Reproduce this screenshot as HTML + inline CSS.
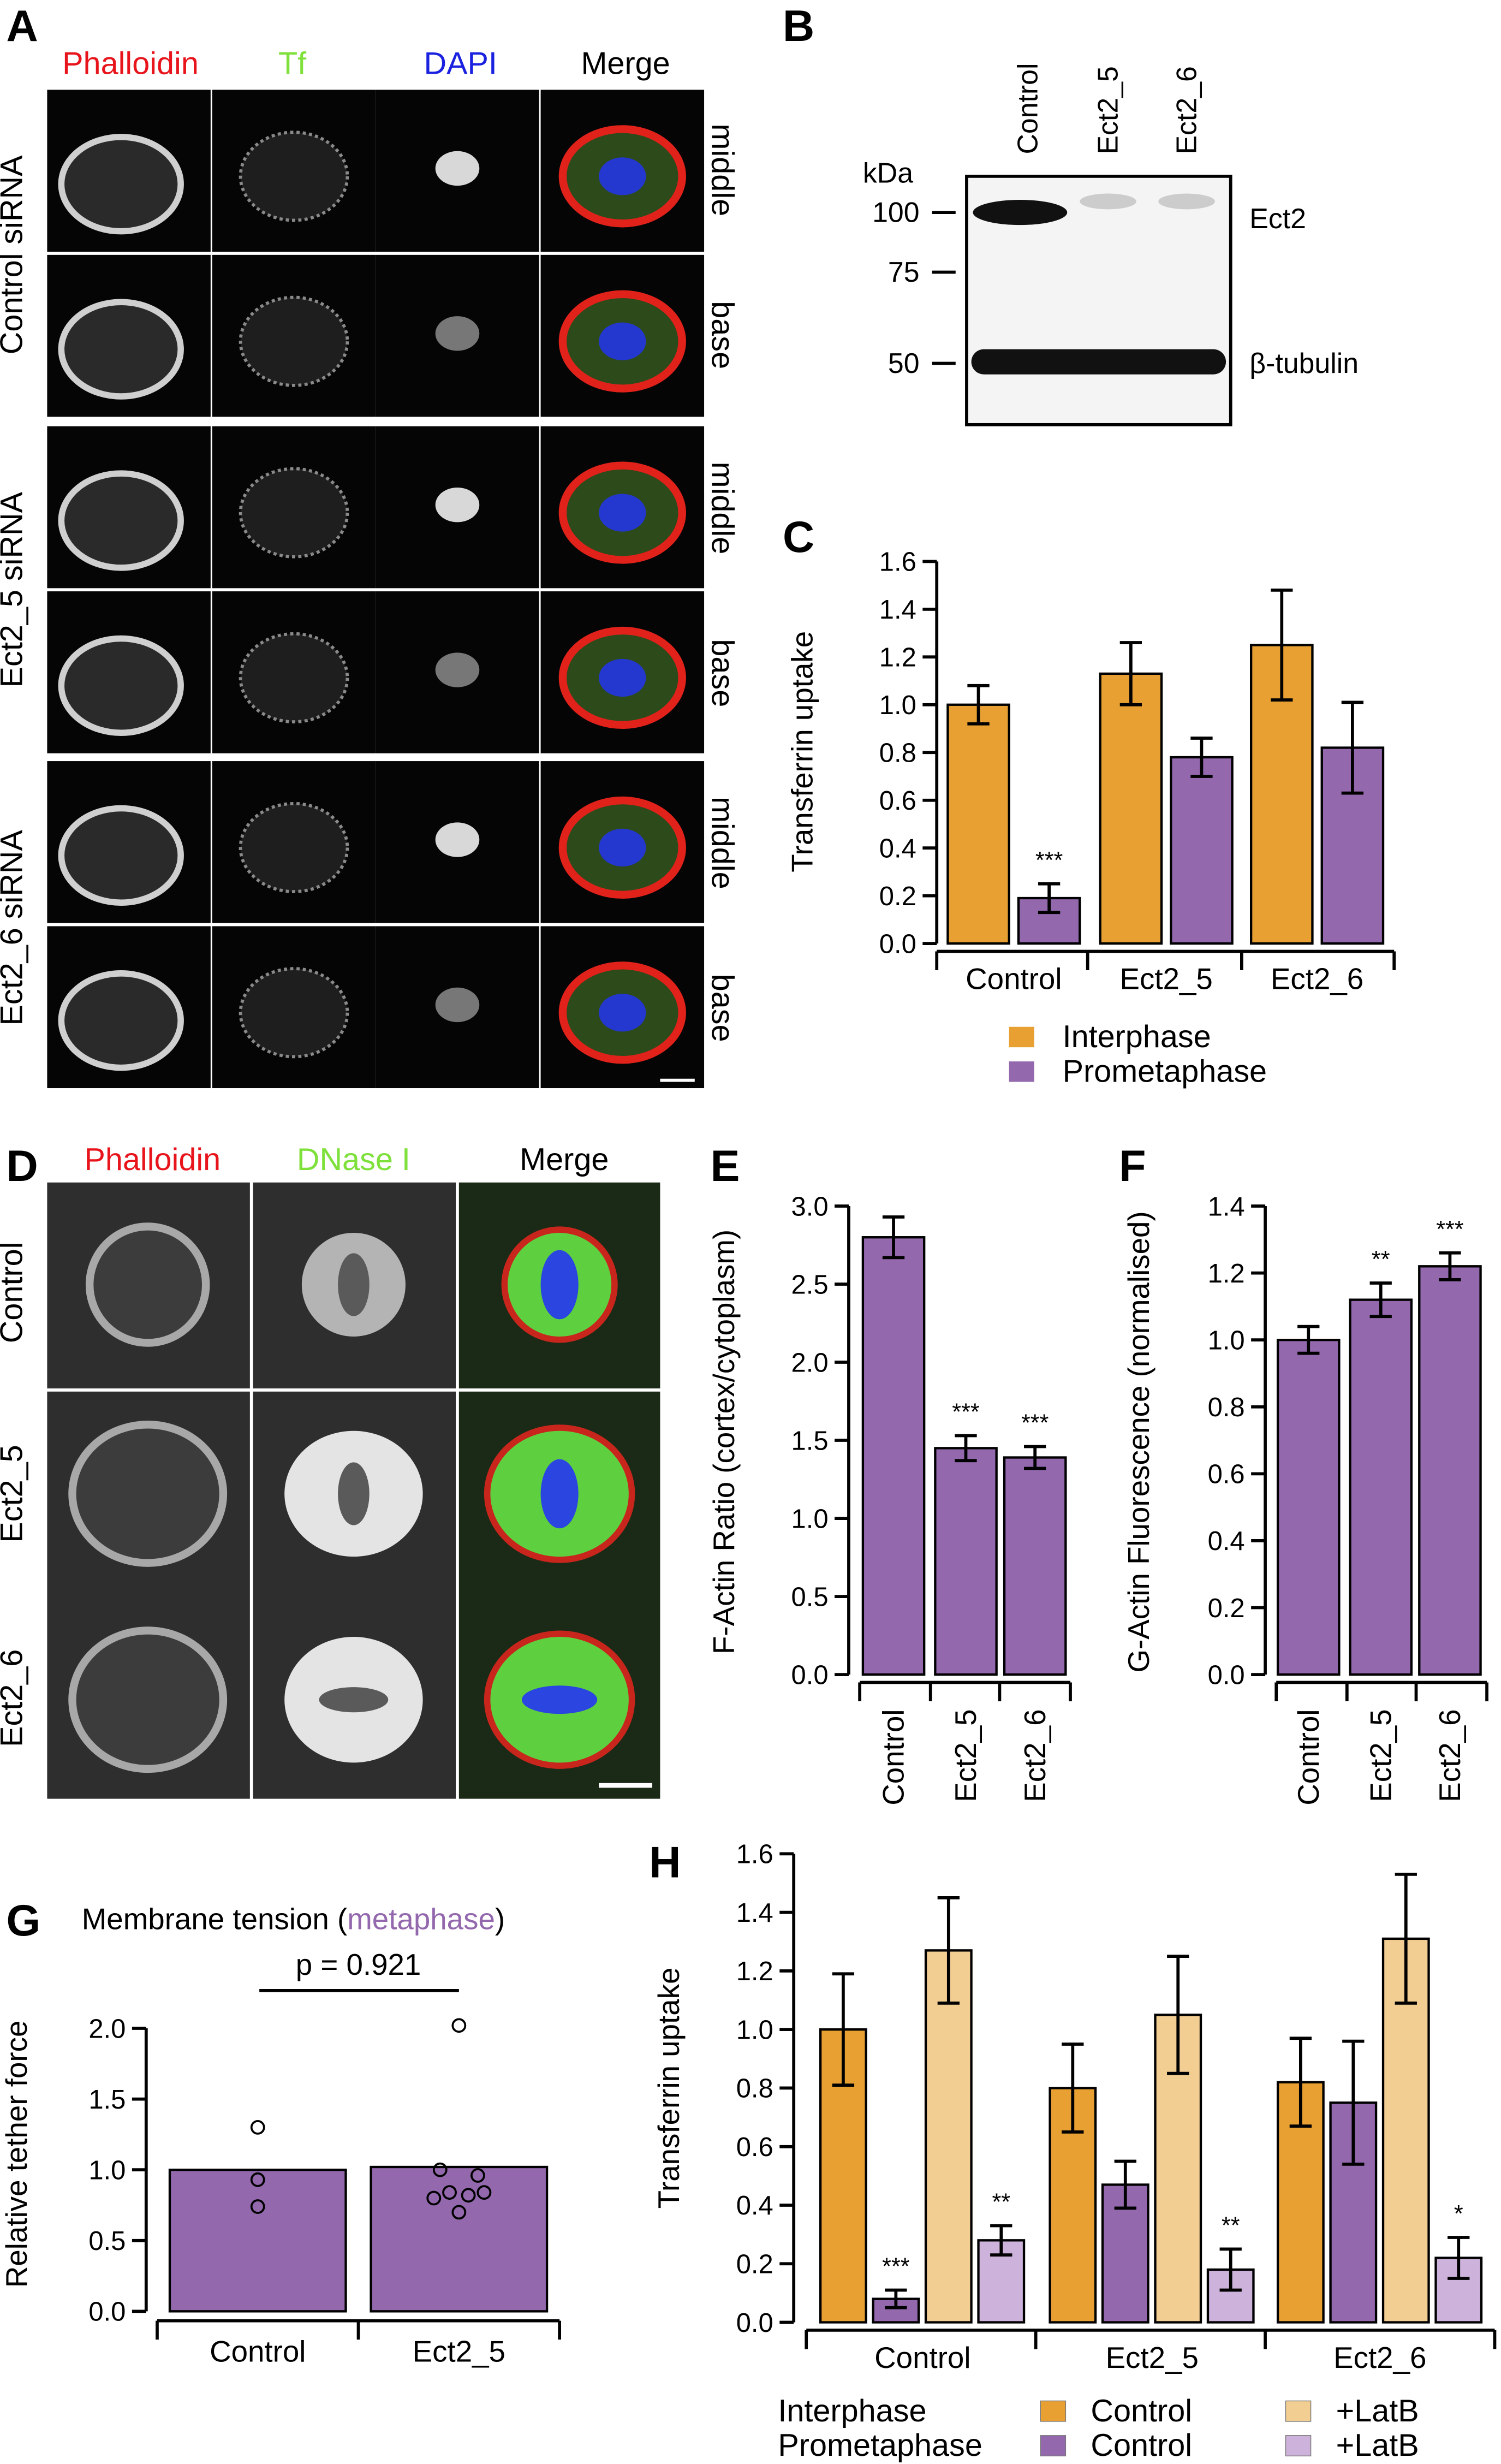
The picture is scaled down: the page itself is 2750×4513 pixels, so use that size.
<!DOCTYPE html>
<html><head><meta charset="utf-8"><style>
html,body{margin:0;padding:0;background:#fff;}
svg{display:block;font-family:"Liberation Sans",Arial,sans-serif;}
</style></head><body>
<svg id="fig" width="2750" height="4513" viewBox="0 0 955 1567" xmlns="http://www.w3.org/2000/svg">
<g id="static"></g>
<g id="charts"></g>
</svg>
<script>
// ---------- DATA ----------
const cGroups = ["Control","Ect2_5","Ect2_6"];
const cInter = [1.0, 1.13, 1.25];
const cInterErr = [0.08, 0.13, 0.23];
const cPro = [0.19, 0.78, 0.82];
const cProErr = [0.06, 0.08, 0.19];
const cStars = ["***","",""];
const cTicks = [0,0.2,0.4,0.6,0.8,1.0,1.2,1.4,1.6];

const eCats = ["Control","Ect2_5","Ect2_6"];
const eVals = [2.8, 1.45, 1.39];
const eErr = [0.13, 0.08, 0.07];
const eStars = ["","***","***"];
const eTicks = [0,0.5,1.0,1.5,2.0,2.5,3.0];

const fCats = ["Control","Ect2_5","Ect2_6"];
const fVals = [1.0, 1.12, 1.22];
const fErr = [0.04, 0.05, 0.04];
const fStars = ["","**","***"];
const fTicks = [0,0.2,0.4,0.6,0.8,1.0,1.2,1.4];

const gCats = ["Control","Ect2_5"];
const gVals = [1.0, 1.02];
const gPtsControl = [1.3, 0.93, 0.74];
const gPtsEct = [2.02, 1.0, 0.96, 0.84, 0.82, 0.8, 0.84, 0.7];
const gTicks = [0,0.5,1.0,1.5,2.0];

const hGroups = ["Control","Ect2_5","Ect2_6"];
const hInter = [1.0, 0.8, 0.82];
const hInterErr = [0.19, 0.15, 0.15];
const hPro = [0.08, 0.47, 0.75];
const hProErr = [0.03, 0.08, 0.21];
const hInterLat = [1.27, 1.05, 1.31];
const hInterLatErr = [0.18, 0.2, 0.22];
const hProLat = [0.28, 0.18, 0.22];
const hProLatErr = [0.05, 0.07, 0.07];
const hStars = [["","***","","**"],["","","","**"],["","","","*"]];
const hTicks = [0,0.2,0.4,0.6,0.8,1.0,1.2,1.4,1.6];

const OR="#E8A033", PU="#9368AD", LOR="#F3CE92", LPU="#CDB3DB";
const NS="http://www.w3.org/2000/svg";
const S=document.getElementById('static'), C=document.getElementById('charts');
function mk(p,tag,a,txt){const e=document.createElementNS(NS,tag);for(const k in a)e.setAttribute(k,a[k]);if(txt!==undefined)e.textContent=txt;p.appendChild(e);return e;}

// ---------- static text / images ----------
function label(x,y,t,opt){opt=opt||{};const e=mk(S,'text',{x:x,y:y,'font-size':opt.fs||20,fill:opt.fill||'#000','text-anchor':opt.anchor||'middle','font-weight':opt.fw||'normal',transform:opt.rot?`rotate(${opt.rot} ${x} ${y})`:''},t);

return e;}
[["A",4,26],["B",498,26],["C",498,351],["D",4,751],["E",452,751],["F",712,751],["G",4,1231],["H",413,1194]].forEach(p=>label(p[1],p[2],p[0],{fs:28,fw:'bold',anchor:'start',name:'panel-letter-'+p[0].toLowerCase()}));

// Panel A
label(83,47,"Phalloidin",{fill:"#e8141b",name:'col-phalloidin'});
label(186,47,"Tf",{fill:"#7ee03a",name:'col-tf'});
label(293,47,"DAPI",{fill:"#1a22e0",name:'col-dapi'});
label(398,47,"Merge",{name:'col-merge'});
const aCols=[30,135,239,344], aRows=[57,162,271,376,484,589];
aRows.forEach((ry,ri)=>aCols.forEach((cx,ci)=>{
  const g=mk(S,'g',{});
  
  
  mk(g,'rect',{x:cx,y:ry,width:104,height:103,fill:'#050505'});
  const mx=cx+52, my=ry+50;
  if(ci===0){mk(g,'ellipse',{cx:mx-5,cy:my+10,rx:38,ry:30,fill:'#2a2a2a',stroke:'#cfcfcf','stroke-width':4});}
  if(ci===1){mk(g,'ellipse',{cx:mx,cy:my+5,rx:34,ry:28,fill:'#1e1e1e',stroke:'#8a8a8a','stroke-width':2,'stroke-dasharray':'2 2'});}
  if(ci===2){mk(g,'ellipse',{cx:mx,cy:my,rx:14,ry:11,fill:(ri%2===0)?'#d8d8d8':'#777'});}
  if(ci===3){mk(g,'ellipse',{cx:mx,cy:my+5,rx:38,ry:30,fill:'#2c4a1a',stroke:'#e0221b','stroke-width':5});
             mk(g,'ellipse',{cx:mx,cy:my+5,rx:15,ry:12,fill:'#2438d0'});}
}));
label(14,162,"Control siRNA",{rot:-90,name:'row-control-sirna'});
label(14,375,"Ect2_5 siRNA",{rot:-90,name:'row-ect2-5-sirna'});
label(14,590,"Ect2_6 siRNA",{rot:-90,name:'row-ect2-6-sirna'});
[["middle",108],["base",213],["middle",323],["base",428],["middle",536],["base",641]].forEach((r,i)=>label(453,r[1],r[0],{rot:90,name:'plane-label'}));
mk(S,'rect',{x:420,y:686,width:22,height:2,fill:'#fff'});

// Panel B
mk(S,'rect',{x:615,y:112,width:168,height:158,fill:'#f4f4f4',stroke:'#000','stroke-width':2});
mk(S,'ellipse',{cx:649,cy:135,rx:30,ry:8,fill:'#111'});
mk(S,'ellipse',{cx:705,cy:128,rx:18,ry:5,fill:'#ccc'});
mk(S,'ellipse',{cx:755,cy:128,rx:18,ry:5,fill:'#ccc'});
mk(S,'rect',{x:618,y:222,width:162,height:16,rx:8,fill:'#111'});
[["Control",660],["Ect2_5",711],["Ect2_6",761]].forEach(l=>label(l[1],98,l[0],{rot:-90,anchor:'start',fs:18,name:'lane-label'}));
label(565,116,"kDa",{fs:18,name:'kda-label'});
[["100",135],["75",173],["50",231]].forEach(m=>{label(585,m[1]+6,m[0],{anchor:'end',fs:18,name:'mw-marker'});mk(S,'line',{x1:593,y1:m[1],x2:608,y2:m[1],stroke:'#000','stroke-width':2});});
label(795,145,"Ect2",{anchor:'start',fs:18,name:'ect2-band-label'});
label(795,237,"β-tubulin",{anchor:'start',fs:18,name:'tubulin-band-label'});

// Panel D
label(97,744,"Phalloidin",{fill:"#e8141b",name:'col-phalloidin-d'});
label(225,744,"DNase I",{fill:"#7ee03a",name:'col-dnase'});
label(359,744,"Merge",{name:'col-merge-d'});
const dCols=[30,161,292], dRows=[752,885,1016];
dRows.forEach((ry,ri)=>dCols.forEach((cx,ci)=>{
  const g=mk(S,'g',{});
  
  
  const w=ci===2?128:129;
  mk(g,'rect',{x:cx,y:ry,width:w,height:ri===2?128:131,fill:ci===2?'#1a2a17':'#2e2e2e'});
  const mx=cx+64,my=ry+65;
  const rx=ri===0?33:44, ry2=ri===0?33:40;
  if(ci===0){mk(g,'ellipse',{cx:mx,cy:my,rx:rx+4,ry:ry2+4,fill:'#3c3c3c',stroke:'#a8a8a8','stroke-width':5});}
  if(ci===1){mk(g,'ellipse',{cx:mx,cy:my,rx:rx,ry:ry2,fill:ri===0?'#b4b4b4':'#e4e4e4'});mk(g,'ellipse',{cx:mx,cy:my,rx:ri===2?22:10,ry:ri===2?8:20,fill:'#5a5a5a'});}
  if(ci===2){mk(g,'ellipse',{cx:mx,cy:my,rx:rx+2,ry:ry2+2,fill:'#5ed040',stroke:'#c8261c','stroke-width':4});mk(g,'ellipse',{cx:mx,cy:my,rx:ri===2?24:12,ry:ri===2?9:22,fill:'#2a45e0'});}
}));
mk(S,'rect',{x:381,y:1134,width:34,height:3,fill:'#fff'});
label(14,822,"Control",{rot:-90,name:'row-control-d'});
label(14,950,"Ect2_5",{rot:-90,name:'row-ect2-5-d'});
label(14,1080,"Ect2_6",{rot:-90,name:'row-ect2-6-d'});

// ---------- chart helpers ----------
function yAxis(x,y0,y1,vMax,ticks,fmt,name){
  const sc=v=>y0-(v/vMax)*(y0-y1);
  const ax=mk(C,'line',{x1:x,y1:sc(ticks[0]),x2:x,y2:sc(ticks[ticks.length-1]),stroke:'#000','stroke-width':2});
  
  
  ticks.forEach(t=>{mk(C,'line',{x1:x-9,y1:sc(t),x2:x,y2:sc(t),stroke:'#000','stroke-width':2});
    const tl=mk(C,'text',{x:x-13,y:sc(t)+6,'font-size':17,'text-anchor':'end'},fmt(t));
    
    });
  return sc;
}
function bar(x,w,v,sc,fill,name){const r=mk(C,'rect',{x:x,y:sc(v),width:w,height:sc(0)-sc(v),fill:fill,stroke:'#000','stroke-width':1.5});
  
  return r;}
function err(cx,v,e,sc){const y1=sc(v+e),y2=sc(v-e);
  const g=mk(C,'g',{stroke:'#000','stroke-width':2});
  
  
  mk(g,'line',{x1:cx,y1:y1,x2:cx,y2:y2});mk(g,'line',{x1:cx-7,y1:y1,x2:cx+7,y2:y1});mk(g,'line',{x1:cx-7,y1:y2,x2:cx+7,y2:y2});}
function star(cx,y,s){if(!s)return;const t=mk(C,'text',{x:cx,y:y,'font-size':15,'text-anchor':'middle'},s);
  
  }
function txt(x,y,s,opt){opt=opt||{};const t=mk(C,'text',{x:x,y:y,'font-size':opt.fs||19,'text-anchor':opt.anchor||'middle',fill:opt.fill||'#000',transform:opt.rot?`rotate(${opt.rot} ${x} ${y})`:''},s);
  
  return t;}
const f1=t=>t.toFixed(1);

// ---------- Panel C ----------
(function(){
  const sc=yAxis(596,600,357,1.6,cTicks,f1,'c-y-axis');
  mk(C,'line',{x1:596,y1:605,x2:887,y2:605,stroke:'#000','stroke-width':2});
  [596,692,790,887].forEach(x=>mk(C,'line',{x1:x,y1:605,x2:x,y2:617,stroke:'#000','stroke-width':2}));
  const gx=[603,700,796], w=39;
  cGroups.forEach((g,i)=>{
    bar(gx[i],w,cInter[i],sc,OR,'c-bar-interphase-'+g.toLowerCase());
    err(gx[i]+w/2,cInter[i],cInterErr[i],sc);
    bar(gx[i]+45,w,cPro[i],sc,PU,'c-bar-prometaphase-'+g.toLowerCase());
    err(gx[i]+45+w/2,cPro[i],cProErr[i],sc);
    star(gx[i]+45+w/2,sc(cPro[i]+cProErr[i])-10,cStars[i]);
    txt(gx[i]+42,629,g,{name:'c-x-label'});
  });
  txt(517,478,"Transferrin uptake",{rot:-90,name:'c-y-axis-title'});
  const l1=mk(C,'rect',{x:642,y:653,width:16,height:13,fill:OR});
  const l2=mk(C,'rect',{x:642,y:675,width:16,height:13,fill:PU});
  txt(676,666,"Interphase",{anchor:'start',fs:20,name:'c-legend-interphase'});
  txt(676,688,"Prometaphase",{anchor:'start',fs:20,name:'c-legend-prometaphase'});
})();

// ---------- Panel E / F ----------
function vertPanel(ax,ytop,vmax,ticks,cats,vals,errs,stars,bx,title,tx,pref){
  const sc=yAxis(ax,1065,ytop,vmax,ticks,f1,pref+'-y-axis');
  mk(C,'line',{x1:ax+7,y1:1070,x2:ax+141,y2:1070,stroke:'#000','stroke-width':2});
  [0,45,89,134].forEach(d=>mk(C,'line',{x1:ax+7+d,y1:1070,x2:ax+7+d,y2:1082,stroke:'#000','stroke-width':2}));
  cats.forEach((c,i)=>{
    bar(bx[i],39,vals[i],sc,PU,pref+'-bar-'+c.toLowerCase());
    err(bx[i]+19.5,vals[i],errs[i],sc);
    star(bx[i]+19.5,sc(vals[i]+errs[i])-10,stars[i]);
    txt(bx[i]+26,1087,c,{rot:-90,anchor:'end',name:pref+'-x-label'});
  });
  txt(tx,917,title,{rot:-90,name:pref+'-y-axis-title'});
}
vertPanel(540,767,3.0,eTicks,eCats,eVals,eErr,eStars,[549,595,639],"F-Actin Ratio (cortex/cytoplasm)",467,'e');
vertPanel(805,767,1.4,fTicks,fCats,fVals,fErr,fStars,[813,859,903],"G-Actin Fluorescence (normalised)",731,'f');

// ---------- Panel G ----------
(function(){
  const sc=yAxis(93,1470,1290,2.0,gTicks,f1,'g-y-axis');
  mk(C,'line',{x1:100,y1:1476,x2:356,y2:1476,stroke:'#000','stroke-width':2});
  [100,228,356].forEach(x=>mk(C,'line',{x1:x,y1:1476,x2:x,y2:1488,stroke:'#000','stroke-width':2}));
  const bx=[108,236];
  gCats.forEach((c,i)=>{bar(bx[i],112,gVals[i],sc,PU,'g-bar-'+c.toLowerCase());txt(bx[i]+56,1502,c,{name:'g-x-label'});});
  const offC=[0,0,0], offE=[0,-12,12,-6,6,-16,16,0];
  gPtsControl.forEach((v,i)=>{const p=mk(C,'circle',{cx:164+offC[i],cy:sc(v),r:4,fill:'none',stroke:'#000','stroke-width':1.3});});
  gPtsEct.forEach((v,i)=>{const p=mk(C,'circle',{cx:292+offE[i],cy:sc(v),r:4,fill:'none',stroke:'#000','stroke-width':1.3});});
  mk(C,'line',{x1:165,y1:1266,x2:292,y2:1266,stroke:'#000','stroke-width':2});
  txt(228,1256,"p = 0.921",{name:'g-p-value'});
  const t=txt(52,1227,"",{anchor:'start',name:'g-title'});
  mk(t,'tspan',{},"Membrane tension (");mk(t,'tspan',{fill:PU},"metaphase");mk(t,'tspan',{},")");
  txt(17,1370,"Relative tether force",{rot:-90,name:'g-y-axis-title'});
})();

// ---------- Panel H ----------
(function(){
  const sc=yAxis(505,1477,1179,1.6,hTicks,f1,'h-y-axis');
  mk(C,'line',{x1:513,y1:1482,x2:951,y2:1482,stroke:'#000','stroke-width':2});
  [513,659,805,951].forEach(x=>mk(C,'line',{x1:x,y1:1482,x2:x,y2:1494,stroke:'#000','stroke-width':2}));
  const gx=[522,668,813], w=29, step=33.5;
  hGroups.forEach((g,i)=>{
    const vals=[hInter[i],hPro[i],hInterLat[i],hProLat[i]];
    const errs=[hInterErr[i],hProErr[i],hInterLatErr[i],hProLatErr[i]];
    const cols=[OR,PU,LOR,LPU], nm=['interphase','prometaphase','interphase-latb','prometaphase-latb'];
    vals.forEach((v,j)=>{const x=gx[i]+j*step;
      bar(x,w,v,sc,cols[j],'h-bar-'+nm[j]+'-'+g.toLowerCase());
      err(x+w/2,v,errs[j],sc);
      star(x+w/2,sc(v+errs[j])-10,hStars[i][j]);});
    txt(gx[i]+65,1506,g,{name:'h-x-label'});
  });
  txt(432,1328,"Transferrin uptake",{rot:-90,name:'h-y-axis-title'});
  txt(495,1540,"Interphase",{anchor:'start',fs:20,name:'h-legend-interphase'});
  txt(495,1562,"Prometaphase",{anchor:'start',fs:20,name:'h-legend-prometaphase'});
  [[662,1527,OR],[662,1549,PU],[818,1527,LOR],[818,1549,LPU]].forEach(s=>{const r=mk(C,'rect',{x:s[0],y:s[1],width:16,height:13,fill:s[2],stroke:'#777','stroke-width':0.5});});
  txt(694,1540,"Control",{anchor:'start',fs:20,name:'h-legend-control'});
  txt(694,1562,"Control",{anchor:'start',fs:20,name:'h-legend-control-pro'});
  txt(850,1540,"+LatB",{anchor:'start',fs:20,name:'h-legend-latb'});
  txt(850,1562,"+LatB",{anchor:'start',fs:20,name:'h-legend-latb-pro'});
})();
</script>
</body></html>
